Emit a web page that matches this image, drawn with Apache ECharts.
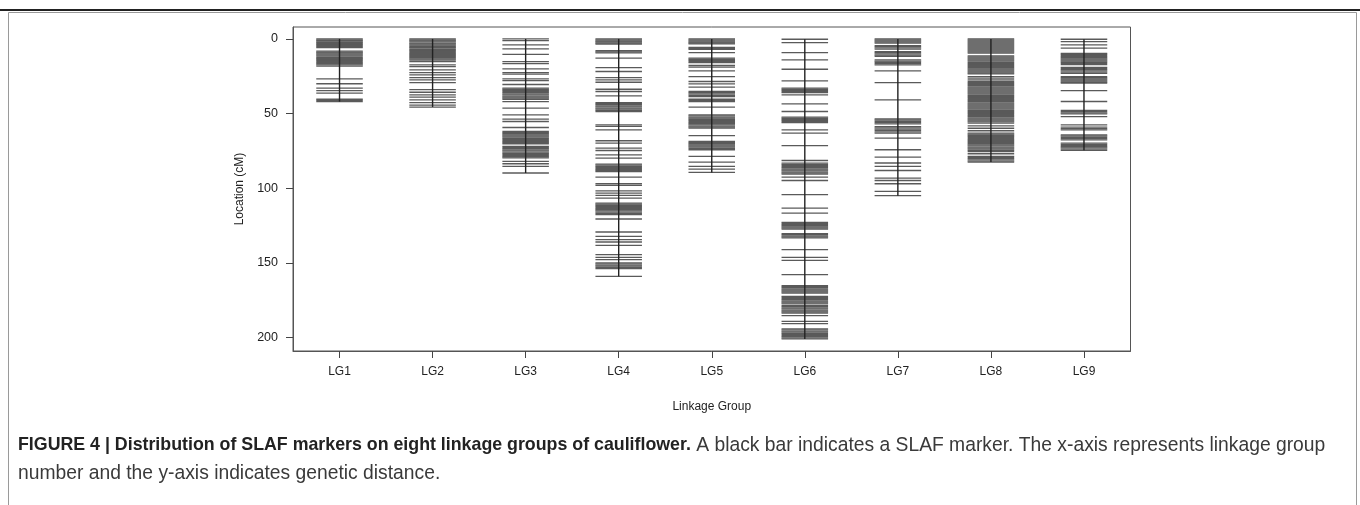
<!DOCTYPE html>
<html>
<head>
<meta charset="utf-8">
<script src="https://cdn.jsdelivr.net/npm/echarts@6/dist/echarts.min.js"></script>
<style>
html,body{margin:0;padding:0;background:#fff;}
#chart{width:1360px;height:505px;}
</style>
</head>
<body>
<div id="chart"></div>
<script>
// ---- data (cM positions of SLAF markers per linkage group) ----
const categories = ['LG1','LG2','LG3','LG4','LG5','LG6','LG7','LG8','LG9'];
const yTicks = [0, 50, 100, 150, 200];

const LG1 = [0, 0.6, 1.2, 1.9, 2.5, 3.1, 3.8, 4.4, 5.1, 5.8, 8.1, 8.8, 9.4, 10.2, 10.9, 11.5, 12.3, 13.0, 13.6, 14.4, 15.1, 15.8, 16.6, 17.3, 18.2, 26.8, 30.0, 33.0, 34.6, 36.3, 40.4, 41.2, 42.0];
const LG2 = [0, 0.7, 1.3, 2.0, 2.8, 3.4, 4.1, 4.9, 5.6, 6.2, 7.0, 7.7, 8.3, 9.1, 9.8, 10.5, 11.2, 11.9, 12.6, 13.4, 14.1, 15.2, 17.4, 18.5, 20.7, 22.5, 24.0, 25.9, 27.4, 29.2, 34.0, 35.7, 37.5, 39.0, 40.8, 42.6, 44.3, 45.6];
const LG3 = [0, 1.1, 4.0, 6.7, 10.3, 15.2, 16.5, 20.0, 22.5, 23.6, 26.8, 27.9, 30.5, 33.0, 33.7, 34.5, 35.2, 36.0, 36.8, 37.5, 38.3, 39.0, 39.7, 40.4, 42.0, 46.4, 50.8, 53.7, 55.3, 59.3, 62.0, 62.8, 63.5, 64.3, 65.0, 65.8, 66.6, 67.3, 68.1, 68.8, 69.5, 70.2, 72.0, 72.7, 73.5, 74.3, 75.0, 75.8, 76.6, 77.3, 78.1, 78.9, 79.7, 82.0, 83.6, 85.4, 89.8];
const LG4 = [0, 0.7, 1.4, 2.0, 2.7, 3.4, 7.9, 8.6, 9.3, 12.9, 19.2, 21.8, 25.9, 27.4, 29.0, 33.7, 35.2, 38.1, 42.6, 43.3, 44.0, 44.8, 45.5, 46.3, 47.0, 47.8, 48.6, 57.5, 58.6, 60.9, 68.2, 69.8, 73.1, 74.7, 77.6, 79.8, 83.8, 84.5, 85.3, 86.0, 86.8, 87.5, 88.2, 88.9, 92.5, 97.0, 98.1, 101.7, 103.2, 104.8, 106.6, 109.9, 110.6, 111.4, 112.1, 112.9, 113.7, 114.4, 115.2, 116.0, 116.8, 117.6, 120.6, 129.3, 132.2, 134.4, 136.0, 138.2, 144.5, 146.3, 147.8, 150.0, 150.7, 151.5, 152.2, 153.0, 153.8, 159.0];
const LG5 = [0, 0.7, 1.4, 2.1, 2.7, 3.3, 5.6, 6.3, 6.9, 9.1, 12.9, 13.6, 14.3, 15.1, 15.8, 17.8, 18.9, 21.4, 25.2, 28.5, 30.1, 32.3, 35.2, 36.0, 36.8, 37.7, 38.6, 40.4, 41.2, 42.0, 45.7, 50.8, 51.5, 52.3, 53.0, 53.8, 54.5, 55.3, 56.0, 56.8, 57.6, 58.4, 59.1, 59.7, 64.7, 68.7, 69.4, 70.2, 71.0, 71.7, 72.5, 73.3, 74.2, 78.7, 82.5, 85.4, 87.2, 89.4];
const LG6 = [0.2, 2.5, 9.1, 14.0, 20.3, 28.1, 33.0, 33.7, 34.5, 35.2, 35.9, 37.5, 43.5, 48.6, 52.4, 53.1, 53.9, 54.6, 55.3, 56.0, 60.9, 63.1, 71.4, 81.4, 83.2, 84.0, 84.7, 85.5, 86.2, 87.0, 87.7, 88.4, 89.2, 89.9, 90.5, 92.5, 94.8, 104.3, 113.3, 116.6, 122.9, 123.6, 124.4, 125.1, 125.9, 126.6, 127.3, 130.4, 131.1, 131.9, 132.6, 133.3, 141.1, 146.3, 148.3, 157.9, 165.2, 165.9, 166.6, 167.4, 168.1, 168.8, 169.6, 170.2, 172.4, 173.1, 173.9, 174.6, 175.4, 176.1, 176.8, 177.4, 178.6, 179.3, 180.1, 180.8, 181.6, 182.3, 183.0, 183.6, 185.3, 189.1, 190.6, 194.2, 194.9, 195.7, 196.4, 197.2, 197.9, 198.7, 199.4, 200.2, 200.9];
const LG7 = [0, 0.7, 1.4, 2.1, 2.8, 4.5, 5.2, 6.0, 6.8, 8.5, 9.2, 10.0, 10.8, 11.6, 14.0, 14.8, 15.6, 16.5, 17.3, 21.4, 29.2, 40.8, 53.5, 54.3, 55.2, 56.0, 56.9, 58.7, 59.5, 60.4, 61.3, 62.2, 63.1, 66.4, 74.2, 79.1, 83.1, 85.4, 88.1, 93.2, 94.8, 97.0, 102.1, 105.0];
const LG8 = [0, 0.6, 1.3, 2.0, 2.6, 3.3, 4.0, 4.6, 5.3, 6.0, 6.6, 7.3, 8.0, 8.6, 9.4, 11.4, 12.1, 12.8, 13.5, 14.2, 14.9, 15.7, 16.4, 17.1, 17.8, 18.5, 19.3, 20.0, 20.7, 21.4, 22.1, 22.8, 23.4, 25.2, 26.3, 27.4, 28.5, 29.2, 29.9, 30.6, 31.3, 32.1, 32.8, 33.5, 34.2, 34.9, 35.6, 36.3, 37.0, 37.8, 38.5, 39.2, 39.9, 40.6, 41.3, 42.0, 42.8, 43.5, 44.2, 44.9, 45.6, 46.3, 47.0, 47.8, 48.5, 49.2, 49.9, 50.6, 51.3, 52.0, 52.8, 53.5, 54.2, 54.9, 55.6, 56.4, 58.2, 59.8, 61.5, 63.1, 63.8, 64.5, 65.2, 65.9, 66.7, 67.4, 68.1, 68.8, 69.5, 70.2, 70.9, 71.6, 72.4, 73.1, 73.8, 74.6, 75.4, 76.9, 78.7, 79.4, 80.2, 81.0, 81.8, 82.5];
const LG9 = [0.2, 1.8, 4.0, 6.2, 9.6, 10.3, 11.1, 11.8, 12.6, 13.3, 14.1, 14.8, 15.6, 16.4, 17.2, 19.0, 19.8, 20.6, 21.4, 22.2, 23.0, 25.2, 26.0, 26.8, 27.5, 28.3, 29.0, 29.6, 34.6, 41.9, 47.9, 48.7, 49.5, 50.2, 52.0, 57.5, 59.1, 60.0, 60.9, 64.2, 65.0, 65.9, 66.8, 67.6, 69.8, 70.6, 71.4, 72.2, 73.0, 73.8, 74.6];

const groups = [LG1, LG2, LG3, LG4, LG5, LG6, LG7, LG8, LG9];

// ---- build series data ----
const markerData = [];
groups.forEach((arr, i) => arr.forEach(v => markerData.push([i + 1, v])));
const backboneData = groups.map((arr, i) => [i + 1, Math.min(...arr), Math.max(...arr)]);

const HALF = 0.25; // half width of a marker bar in category units

const chart = echarts.init(document.getElementById('chart'), null, {renderer: 'canvas'});
const FONT = 'Liberation Sans, Arial, sans-serif';

chart.setOption({
  animation: false,
  backgroundColor: '#fff',
  grid: {left: 293, right: 229.5, top: 27, bottom: 154, show: true, borderColor: '#555', borderWidth: 1},
  xAxis: {
    type: 'value', min: 0.5, max: 9.5,
    name: 'Linkage Group', nameLocation: 'middle', nameGap: 50,
    nameTextStyle: {fontFamily: FONT, fontSize: 12, color: '#222'},
    axisLine: {show: true, onZero: false, lineStyle: {color: '#555', width: 1}},
    axisTick: {show: true, length: 7, inside: false, customValues: [1,2,3,4,5,6,7,8,9], lineStyle: {color: '#444'}},
    axisLabel: {show: true, margin: 15, customValues: [1,2,3,4,5,6,7,8,9],
      formatter: v => categories[Math.round(v) - 1] || '',
      fontFamily: FONT, fontSize: 12, color: '#222'},
    splitLine: {show: false}
  },
  yAxis: {
    type: 'value', inverse: true, min: -8, max: 209,
    name: 'Location (cM)', nameLocation: 'middle', nameGap: 47, nameRotate: 90,
    nameTextStyle: {fontFamily: FONT, fontSize: 12, color: '#222'},
    axisLine: {show: true, onZero: false, lineStyle: {color: '#555', width: 1}},
    axisTick: {show: true, length: 7, customValues: yTicks, lineStyle: {color: '#444'}},
    axisLabel: {show: true, margin: 15, customValues: yTicks, fontFamily: FONT, fontSize: 12.5, color: '#222'},
    splitLine: {show: false}
  },
  series: [
    {
      type: 'custom',
      name: 'markers',
      data: markerData,
      encode: {x: 0, y: 1},
      renderItem: function (params, api) {
        const x = api.value(0), y = api.value(1);
        const p1 = api.coord([x - HALF, y]);
        const p2 = api.coord([x + HALF, y]);
        return {
          type: 'line',
          shape: {x1: p1[0], y1: p1[1], x2: p2[0], y2: p2[1]},
          style: {stroke: '#5a5a5a', lineWidth: 1.3}
        };
      }
    },
    {
      type: 'custom',
      name: 'backbone',
      data: backboneData,
      encode: {x: 0, y: [1, 2]},
      renderItem: function (params, api) {
        const x = api.value(0);
        const a = api.coord([x, api.value(1)]);
        const b = api.coord([x, api.value(2)]);
        return {
          type: 'line',
          shape: {x1: a[0], y1: a[1], x2: b[0], y2: b[1]},
          style: {stroke: '#222', lineWidth: 1.4}
        };
      }
    }
  ],
  graphic: [
    {type: 'rect', left: 6, top: 10, shape: {width: 1348, height: 520}, style: {fill: 'none', stroke: '#9a9a9a', lineWidth: 1}, silent: true},
    {type: 'line', shape: {x1: 0, y1: 10, x2: 1360, y2: 10}, style: {stroke: '#222', lineWidth: 2}, silent: true},
    {
      type: 'text', left: 18, top: 436,
      style: {
        text: '{b|FIGURE 4 | Distribution of SLAF markers on eight linkage groups of cauliflower.}{n| A black bar indicates a SLAF marker. The x-axis represents linkage group}',
        font: '19px Liberation Sans', fill: '#333',
        rich: {
          b: {fontFamily: 'Liberation Sans', fontSize: 17.8, fontWeight: 'bold', fill: '#222'},
          n: {fontFamily: 'Liberation Sans', fontSize: 19.3, fill: '#3a3a3a'}
        }
      }
    },
    {
      type: 'text', left: 18, top: 464,
      style: {text: 'number and the y-axis indicates genetic distance.', font: '19.3px Liberation Sans', fill: '#3a3a3a'}
    }
  ]
});
</script>
</body>
</html>
